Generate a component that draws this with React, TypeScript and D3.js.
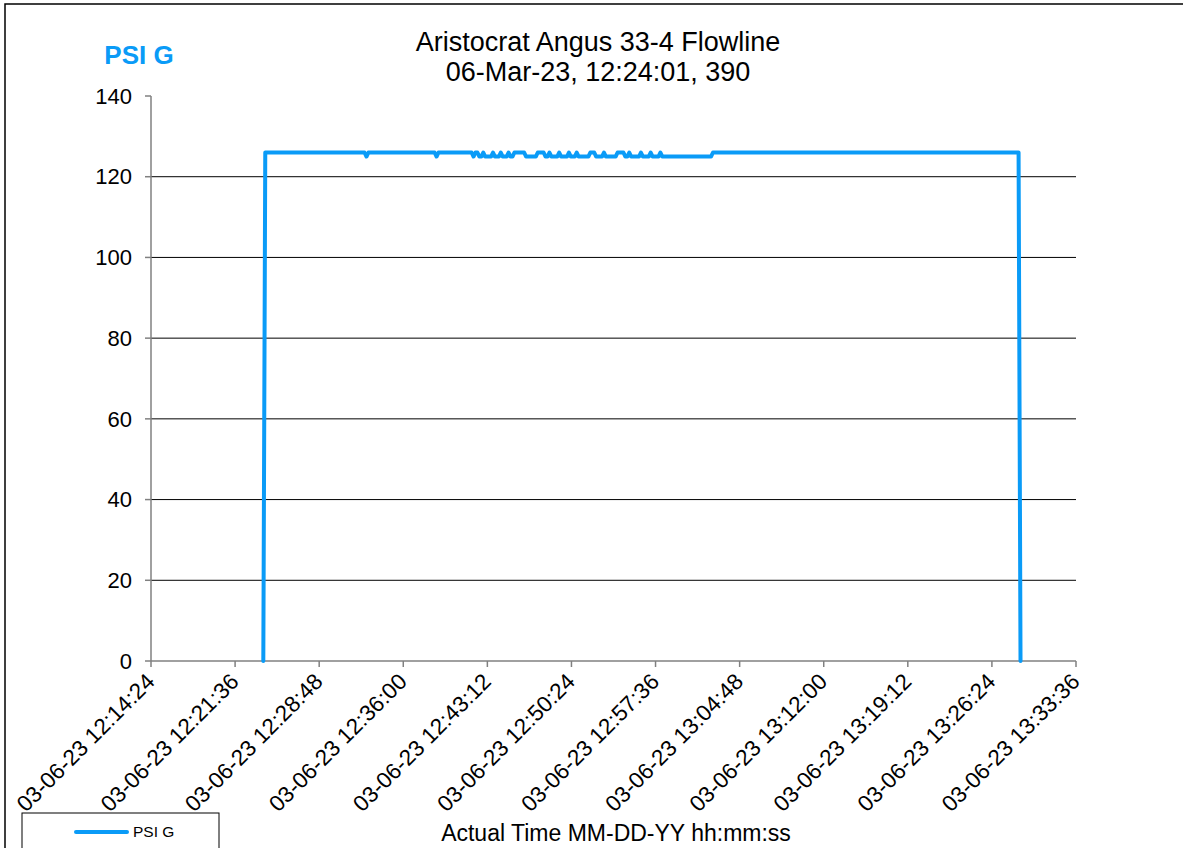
import React from "react";
import * as d3 from "d3";

// ---- data ----
const chartTitle = "Aristocrat Angus 33-4 Flowline";
const chartSubtitle = "06-Mar-23, 12:24:01, 390";
const seriesName = "PSI G";
const xAxisTitle = "Actual Time MM-DD-YY hh:mm:ss";
const datePrefix = "03-06-23";

// x-axis tick labels (every 7 min 12 s)
const xTickTimes = [
  "12:14:24", "12:21:36", "12:28:48", "12:36:00", "12:43:12", "12:50:24",
  "12:57:36", "13:04:48", "13:12:00", "13:19:12", "13:26:24", "13:33:36",
];
const yTicks = [0, 20, 40, 60, 80, 100, 120, 140];

// PSI G samples (endpoints of constant runs, 10 s sampling)
const sampleTimes = [
  "12:24:01", "12:24:11", "12:32:41", "12:32:51", "12:33:01", "12:38:41",
  "12:38:51", "12:39:01", "12:41:51", "12:42:01", "12:42:11", "12:42:21",
  "12:42:31", "12:42:41", "12:42:51", "12:43:01", "12:43:31", "12:43:41",
  "12:43:51", "12:44:11", "12:44:21", "12:44:31", "12:44:51", "12:45:01",
  "12:45:11", "12:45:21", "12:45:31", "12:46:21", "12:46:31", "12:47:21",
  "12:47:31", "12:48:01", "12:48:11", "12:48:21", "12:48:31", "12:48:41",
  "12:49:11", "12:49:21", "12:49:31", "12:50:01", "12:50:11", "12:50:21",
  "12:50:41", "12:50:51", "12:51:01", "12:51:51", "12:52:01", "12:52:21",
  "12:52:31", "12:53:01", "12:53:11", "12:53:21", "12:54:11", "12:54:21",
  "12:54:51", "12:55:01", "12:55:11", "12:55:21", "12:55:31", "12:56:11",
  "12:56:21", "12:56:31", "12:57:01", "12:57:11", "12:57:21", "12:57:51",
  "12:58:01", "12:58:11", "13:02:21", "13:02:31", "13:28:41", "13:28:51",
];
const sampleValues = [
  0, 126, 126, 125, 126, 126,
  125, 126, 126, 125, 126, 126,
  125, 125, 126, 125, 125, 126,
  125, 125, 126, 125, 125, 126,
  125, 125, 126, 126, 125, 125,
  126, 126, 125, 125, 126, 125,
  125, 126, 125, 125, 126, 125,
  125, 126, 125, 125, 126, 126,
  125, 125, 126, 125, 125, 126,
  126, 125, 125, 126, 125, 125,
  126, 125, 125, 126, 125, 125,
  126, 125, 125, 126, 126, 0,
];

const toSec = (s: string) => {
  const [h, m, sec] = s.split(":").map(Number);
  return h * 3600 + m * 60 + sec;
};

const W = 1183;
const H = 848;
const M = { left: 151, right: 1076, top: 96, bottom: 661 };
const LINE_COLOR = "#0A9BF7";
const FONT = "'Liberation Sans', Arial, sans-serif";

export default function App() {
  const x = d3
    .scaleLinear()
    .domain([toSec(xTickTimes[0]), toSec(xTickTimes[xTickTimes.length - 1])])
    .range([M.left, M.right]);
  const y = d3.scaleLinear().domain([0, 140]).range([M.bottom, M.top]);

  const pts: [number, number][] = sampleTimes.map((t, i) => [toSec(t), sampleValues[i]]);
  const line = d3
    .line<[number, number]>()
    .x((d) => x(d[0]))
    .y((d) => y(d[1]));

  return (
    <svg
      width={W}
      height={H}
      style={{ position: "absolute", left: 0, top: 0, background: "#fff" }}
      fontFamily={FONT}
    >
      <rect x={0} y={0} width={W} height={H} fill="#fff" />
      {/* outer frame */}
      <rect x={5} y={4} width={W + 20} height={H + 20} fill="none" stroke="#000" strokeWidth={1.5} />

      {/* titles */}
      <text x={598} y={51} textAnchor="middle" fontSize={27} fill="#000">
        {chartTitle}
      </text>
      <text x={598} y={81} textAnchor="middle" fontSize={27} fill="#000">
        {chartSubtitle}
      </text>
      <text x={139} y={64} textAnchor="middle" fontSize={26} fontWeight="bold" fill={LINE_COLOR}>
        {seriesName}
      </text>

      {/* gridlines */}
      {yTicks
        .filter((v) => v > 0 && v < 140)
        .map((v) => (
          <line key={"g" + v} x1={M.left} x2={M.right} y1={y(v)} y2={y(v)} stroke="#000" strokeWidth={1} />
        ))}

      {/* y axis */}
      <line x1={M.left} x2={M.left} y1={M.top} y2={M.bottom} stroke="#808080" strokeWidth={1.5} />
      {yTicks.map((v) => (
        <g key={"y" + v}>
          <line x1={M.left - 6} x2={M.left} y1={y(v)} y2={y(v)} stroke="#808080" strokeWidth={1.5} />
          <text x={132} y={y(v)} dy="0.35em" textAnchor="end" fontSize={22} fill="#000">
            {v}
          </text>
        </g>
      ))}

      {/* x axis */}
      <line x1={M.left} x2={M.right} y1={M.bottom} y2={M.bottom} stroke="#808080" strokeWidth={1.5} />
      {xTickTimes.map((t) => {
        const px = x(toSec(t));
        return (
          <g key={"x" + t}>
            <line x1={px} x2={px} y1={M.bottom} y2={M.bottom + 6} stroke="#808080" strokeWidth={1.5} />
            <text
              transform={`translate(${px + 5},${M.bottom + 22}) rotate(-45)`}
              textAnchor="end"
              fontSize={22.5}
              fill="#000"
            >
              {`${datePrefix} ${t}`}
            </text>
          </g>
        );
      })}

      {/* series */}
      <path
        d={line(pts) ?? ""}
        fill="none"
        stroke={LINE_COLOR}
        strokeWidth={4}
        strokeLinejoin="round"
        strokeLinecap="round"
      />

      {/* x-axis title */}
      <text x={616} y={841} textAnchor="middle" fontSize={23} fill="#000">
        {xAxisTitle}
      </text>

      {/* legend */}
      <rect x={22} y={813} width={197} height={60} fill="#fff" stroke="#000" strokeWidth={1} />
      <line x1={76} x2={127} y1={832} y2={832} stroke={LINE_COLOR} strokeWidth={4} strokeLinecap="round" />
      <text x={133} y={832} dy="0.35em" fontSize={15.5} fill="#000">
        {seriesName}
      </text>
    </svg>
  );
}
